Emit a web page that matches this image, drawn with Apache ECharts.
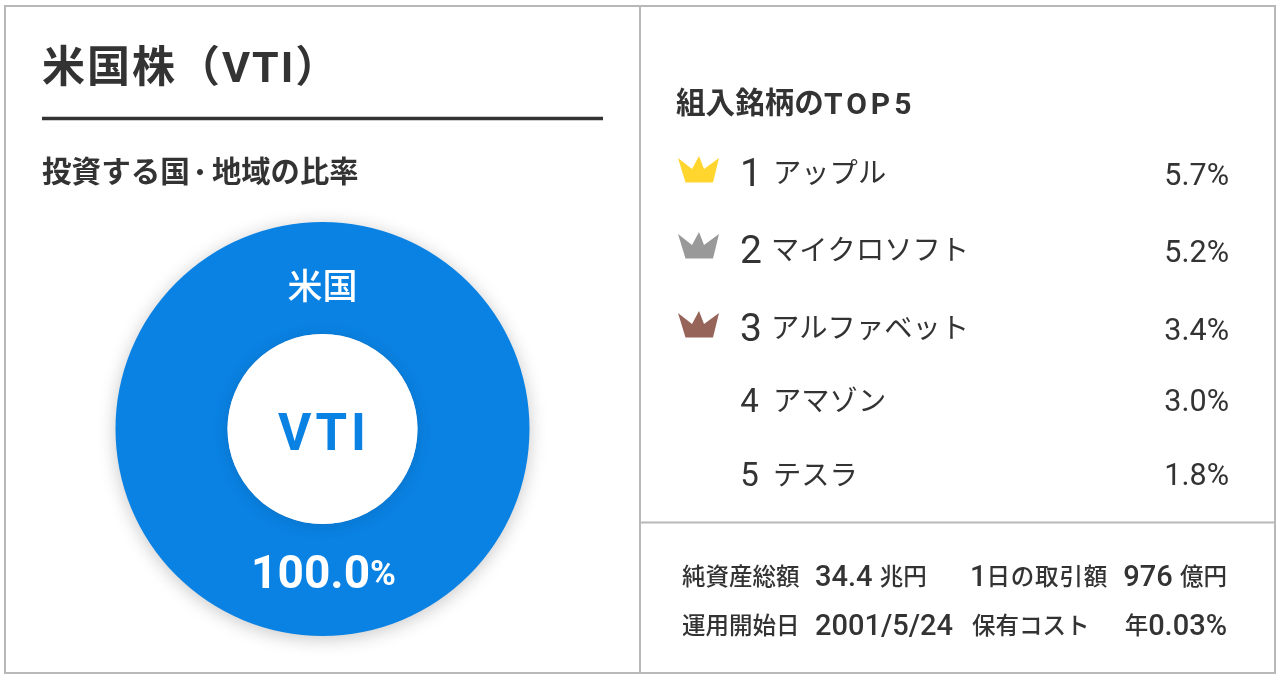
<!DOCTYPE html>
<html><head><meta charset="utf-8">
<style>html,body{margin:0;padding:0;background:#fff}#c{width:1280px;height:680px}</style>
<script src="https://cdn.jsdelivr.net/npm/echarts@6/dist/echarts.min.js"></script>
</head><body><div id="c"></div>
<script>
const FONT = 'Roboto, "Noto Sans CJK JP", sans-serif';
const INK = '#333333';
const BLUE = '#0a82e3';
const titleText = '米国株（VTI）';
const pieTitleParts = ['投資する国','・','地域の比率'];
const listTitleParts = ['組入銘柄の','TOP5'];
const regionNames = ['米国'];
const regionValues = [100.0];
const centerLabel = 'VTI';
const ranks = ['1','2','3','4','5'];
const holdings = ['アップル','マイクロソフト','アルファベット','アマゾン','テスラ'];
const weights = [5.7,5.2,3.4,3.0,1.8];
const crownColors = ['#ffd52e','#999999','#97645a'];
const statLabels = [['純資産総額','1日の取引額'],['運用開始日','保有コスト']];
const statValues = [['34.4 兆円','976 億円'],['2001/5/24','年0.03%']];

const rowY = [172,249,327,400,474];
const rankSize = [39,39,39,33,33];
const rankX = [751,751,751,749.5,749.5];
const nameX = [773,771,771,773,773];
const pctY = [177,254,332,403,477];
const crownTop = [157,233,312];
const CROWN = [[0,1],[14,12],[21,-1],[26,12],[41,1],[35,25.5],[7.5,25.5]];

// letter spacing per string, applied at paint time so each string stays whole
const SPACING = {[titleText]:2,[listTitleParts[1]]:4,[centerLabel]:4,'日の取引額':0.8};
const origFill = CanvasRenderingContext2D.prototype.fillText;
CanvasRenderingContext2D.prototype.fillText = function(s,x,y,m){
  this.letterSpacing = (SPACING[s]||0)+'px';
  return m===undefined ? origFill.call(this,s,x,y) : origFill.call(this,s,x,y,m);
};

function t(x,y,text,size,weight,fill,align){
  return {type:'text',x:x,y:y,silent:true,style:{text:text,font:`${weight} ${size}px ${FONT}`,fill:fill||INK,
    textAlign:align||'left',textVerticalAlign:'middle'}};
}
// mixed run: latin/digits large, CJK small
function mixed(x,y,text,latinSize,cjkSize,weight,align){
  const parts = text.split(/([\u3000-\u9fff]+)/).filter(Boolean);
  return {type:'text',x:x,y:y,silent:true,style:{
    text:parts.map(p=>(/[\u3000-\u9fff]/.test(p)?'{c|':'{l|')+p+'}').join(''),
    textAlign:align||'left',textVerticalAlign:'middle',
    rich:{l:{font:`${weight} ${latinSize}px ${FONT}`,fill:INK},c:{font:`${weight} ${cjkSize}px ${FONT}`,fill:INK}}}};
}
const g = [];
g.push({type:'rect',shape:{x:5,y:6,width:1270,height:667},style:{fill:'none',stroke:'#b8b8b8',lineWidth:2},silent:true});
g.push({type:'line',shape:{x1:640,y1:6,x2:640,y2:673},style:{stroke:'#b8b8b8',lineWidth:2},silent:true});
g.push({type:'line',shape:{x1:640,y1:522.5,x2:1275,y2:522.5},style:{stroke:'#b8b8b8',lineWidth:2},silent:true});
g.push({type:'line',shape:{x1:42,y1:118.5,x2:603,y2:118.5},style:{stroke:INK,lineWidth:3.5},silent:true});
g.push(t(42,71,titleText,43,700));
g.push(t(42,175,pieTitleParts[0],29.6,700));
g.push(t(200,175,pieTitleParts[1],24,700,INK,'center'));
g.push(t(212,175,pieTitleParts[2],29.3,700));
g.push({type:'text',x:676,y:106,silent:true,style:{
  text:'{a|'+listTitleParts[0]+'}{b|'+listTitleParts[1]+'}',textAlign:'left',textVerticalAlign:'middle',
  rich:{a:{font:`700 29.6px ${FONT}`,fill:INK},b:{font:`700 30px ${FONT}`,fill:INK}}}});
// white hole casts its own soft shadow on the blue ring
g.push({type:'circle',shape:{cx:322.5,cy:429,r:95},silent:true,z2:-1,
  style:{fill:'#fff',shadowBlur:16,shadowColor:'rgba(0,0,0,0.12)',shadowOffsetY:2}});
g.push(t(322.5,290,regionNames[0],35,500,'#fff','center'));
g.push(t(324,437,centerLabel,51,700,BLUE,'center'));
g.push({type:'text',x:323.5,y:576,silent:true,style:{
  text:'{a|'+regionValues[0].toFixed(1)+'}{b|%}',textAlign:'center',textVerticalAlign:'middle',
  rich:{a:{font:`700 46px ${FONT}`,fill:'#fff'},b:{font:`700 35px ${FONT}`,fill:'#fff'}}}});
holdings.forEach((h,i)=>{
  if(i<3) g.push({type:'polygon',shape:{points:CROWN.map(p=>[678+p[0],crownTop[i]+p[1]])},
    style:{fill:crownColors[i]},silent:true});
  g.push(t(rankX[i],rowY[i]+4,ranks[i],rankSize[i],400,INK,'center'));
  g.push(t(nameX[i],rowY[i]+4,h,28.3,400));
  g.push(t(1229,pctY[i],weights[i].toFixed(1)+'%',30.5,400,INK,'right'));
});
[576,625].forEach((y,r)=>{
  g.push(t(682,y+3,statLabels[r][0],23.5,500));
  g.push(mixed(815,y+3,statValues[r][0],29,23.5,500));
  g.push(mixed(r?972:970,y+3,statLabels[r][1],29,23.5,500));
  g.push(mixed(1227,y+3,statValues[r][1],29,23.5,500,'right'));
});

const chart = echarts.init(document.getElementById('c'),null,{renderer:'canvas',width:1280,height:680});
chart.setOption({
  animation:false,
  backgroundColor:'#fff',
  series:[{type:'pie',center:[322.5,429],radius:[95,207],silent:true,z:1,
    label:{show:false},labelLine:{show:false},
    itemStyle:{color:BLUE,shadowBlur:18,shadowColor:'rgba(0,0,0,0.22)',shadowOffsetY:3},
    data:regionNames.map((n,i)=>({name:n,value:regionValues[i]}))}],
  graphic:{elements:g.map((e,i)=>Object.assign({z:10},e))}
});
</script></body></html>
